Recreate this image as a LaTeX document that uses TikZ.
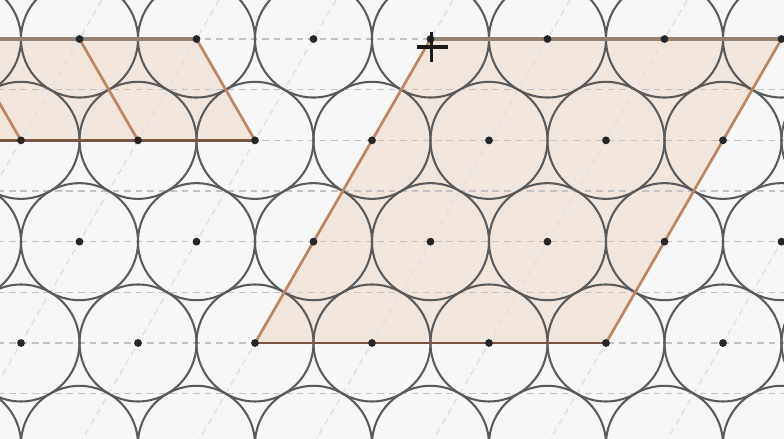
\documentclass[tikz,border=0pt]{standalone}
\usepackage{tikz}
\usetikzlibrary{calc}
\definecolor{bggray}{HTML}{F7F7F8}
\definecolor{gridgray}{HTML}{C2C2C6}
\definecolor{ringgray}{HTML}{5A5A5A}
\definecolor{cellfill}{HTML}{F2E5DB}
\definecolor{sidebrown}{HTML}{BE8660}
\definecolor{basebrown}{HTML}{7A5542}
\definecolor{topbrown}{HTML}{96826F}
\tikzset{
  % gitter
  gridline/.style={draw=gridgray,line width=0.35pt,dash pattern=on 1.6pt off 1.2pt},
  gridslant/.style={gridline,draw=gridgray!50},
  ring/.style={draw=ringgray,line width=0.5pt},
  lpt/.style={fill=black!85},
  % celler
  cell/.style={fill=cellfill},
  side/.style={draw=sidebrown,line width=0.65pt},
  base/.style={draw=basebrown,line width=0.65pt},
  topedge/.style={draw=topbrown,line width=0.8pt},
  pointer/.style={draw=black!90,line width=0.8pt},
}
\begin{document}
\begin{tikzpicture}
\pgfmathsetmacro{\rh}{sqrt(3)/2}
\useasboundingbox (-2.1795,-0.8205) rectangle (4.5214,2.9316);
\clip (-2.1795,-0.8205) rectangle (4.5214,2.9316);
\fill[bggray] (-2.1795,-0.8205) rectangle (4.5214,2.9316);
  \coordinate (A) at (0,0);
  \coordinate (B) at (3,0);
  \coordinate (C) at (4.5,3*\rh);
  \coordinate (D) at (1.5,3*\rh);
  \coordinate (L1) at (0,2*\rh);
  \coordinate (L2) at (-0.5,3*\rh);
  \coordinate (L3) at (-3.5,3*\rh);
  \coordinate (L4) at (-3,2*\rh);
  \fill[cell] (A) -- (B) -- (C) -- (D) -- cycle;
  \fill[cell] (L4) -- (L1) -- (L2) -- (L3) -- cycle;
  % gitterlinjer
  \foreach \k in {-2,...,7}
    \draw[gridline] (-2.3,\k*\rh/2) -- (4.6,\k*\rh/2);
  \foreach \i in {-4,...,5}
    \draw[gridslant] (\i-0.5,-\rh) -- (\i+2,4*\rh);
  % skivor
  \foreach \j in {-1,...,3}
    \foreach \i in {-3,...,5} {
      \pgfmathsetmacro{\xc}{\i+0.5*mod(\j+2,2)}
      \draw[ring] (\xc,\j*\rh) circle (0.5);
    }
  \draw[base] (A) -- (B);
  \draw[topedge] (D) -- (C);
  \draw[side] (A) -- (D);
  \draw[side] (B) -- (C);
  \draw[base] (L4) -- (L1);
  \draw[topedge] (L3) -- (L2);
  \draw[side] (L1) -- (L2);
  \draw[side] (-1,2*\rh) -- (-1.5,3*\rh);
  \draw[side] (-2,2*\rh) -- (-2.5,3*\rh);
  \foreach \j in {-1,...,3}
    \foreach \i in {-3,...,5} {
      \pgfmathsetmacro{\xc}{\i+0.5*mod(\j+2,2)}
      \fill[lpt] (\xc,\j*\rh) circle (0.95pt);
    }
  % muspekare
  \coordinate (cur) at (1.51,2.53);
  \draw[pointer] ($(cur)+(-0.125,0)$) -- ($(cur)+(0.14,0)$);
  \draw[pointer] ($(cur)+(0,-0.128)$) -- ($(cur)+(0,0.128)$);
\end{tikzpicture}
\end{document}
